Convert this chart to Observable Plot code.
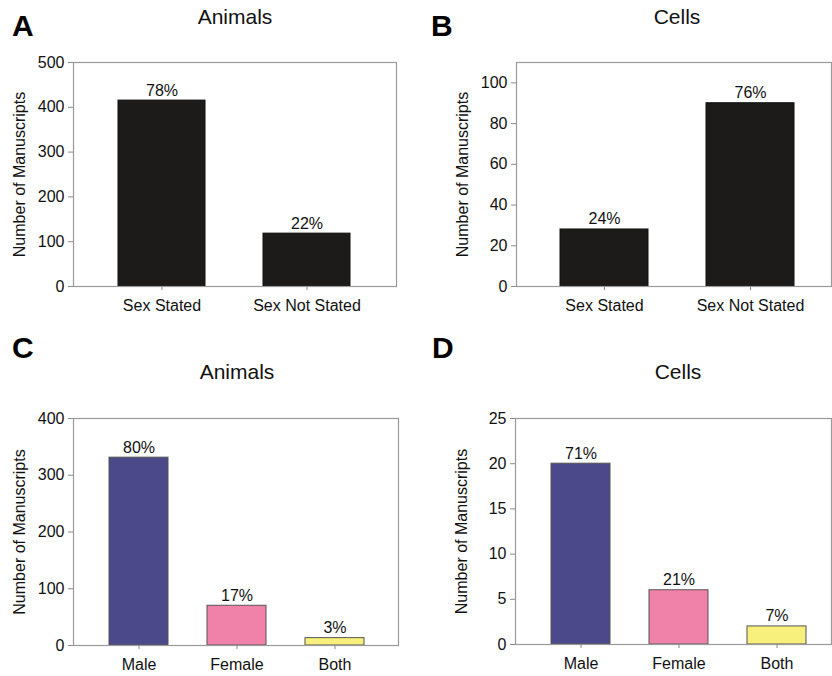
<!DOCTYPE html>
<html>
<head>
<meta charset="utf-8">
<script src="https://cdn.jsdelivr.net/npm/d3@7"></script>
<script src="https://cdn.jsdelivr.net/npm/@observablehq/plot@0.6"></script>
<style>
  html, body { margin: 0; padding: 0; background: #fff; }
  #root { position: relative; width: 832px; height: 676px; overflow: hidden; font-family: "Liberation Sans", Arial, sans-serif; }
  .panel { position: absolute; }
  .title { position: absolute; font-size: 21px; line-height: 21px; text-align: center; width: 300px; color: #111; }
  .letter { position: absolute; font-size: 30px; line-height: 30px; font-weight: bold; color: #000; }
</style>
</head>
<body>
<div id="root"></div>
<script>
// ---- data ----
const catsStated = ["Sex Stated", "Sex Not Stated"];
const animalsStated = [415, 118];
const animalsStatedPct = ["78%", "22%"];
const cellsStated = [28, 90];
const cellsStatedPct = ["24%", "76%"];

const catsSex = ["Male", "Female", "Both"];
const animalsSex = [331, 70, 13];
const animalsSexPct = ["80%", "17%", "3%"];
const cellsSex = [20, 6, 2];
const cellsSexPct = ["71%", "21%", "7%"];

const statedColors = ["#1c1b19", "#1c1b19"];
const sexColors = ["#4b4989", "#f081a9", "#f8f07c"];

const ticksA = [0, 100, 200, 300, 400, 500];
const ticksB = [0, 20, 40, 60, 80, 100];
const ticksC = [0, 100, 200, 300, 400];
const ticksD = [0, 5, 10, 15, 20, 25];

const root = document.getElementById("root");

function panel({cats, values, pct, colors, yDomain, yTicks, left, top, width, height,
                margins, pInner, pOuter, align, barStroke}) {
  const data = cats.map((c, i) => ({cat: c, v: values[i], pct: pct[i], color: colors[i]}));
  const chart = Plot.plot({
    width, height,
    marginTop: margins[0], marginRight: margins[1], marginBottom: margins[2], marginLeft: margins[3],
    style: {fontFamily: '"Liberation Sans", Arial, sans-serif', fontSize: "16px", color: "#111", background: "transparent", overflow: "visible"},
    x: {type: "band", domain: cats, paddingInner: pInner, paddingOuter: pOuter, align},
    y: {domain: yDomain},
    marks: [
      Plot.barY(data, {x: "cat", y: "v", fill: "color", stroke: barStroke, strokeWidth: 1}),
      Plot.text(data, {x: "cat", y: "v", text: "pct", lineAnchor: "bottom", dy: -5, fontSize: 16, fill: "#111"}),
      Plot.frame({stroke: "#9a9a9a", strokeWidth: 1.2}),
      Plot.axisY({ticks: yTicks, tickSize: 5, tickPadding: 4, stroke: "#8a8a8a", fill: "#111", fontSize: 16,
                  label: "Number of Manuscripts", labelAnchor: "center", labelArrow: "none", labelOffset: 60}),
      Plot.axisX({tickSize: 4, tickPadding: 9, stroke: "#8a8a8a", fill: "#111", fontSize: 16, label: null})
    ]
  });
  const div = document.createElement("div");
  div.className = "panel";
  div.style.left = left + "px";
  div.style.top = top + "px";
  div.appendChild(chart);
  root.appendChild(div);
}

function addText(cls, text, left, top) {
  const d = document.createElement("div");
  d.className = cls;
  d.textContent = text;
  d.style.left = left + "px";
  d.style.top = top + "px";
  root.appendChild(d);
}

panel({cats: catsStated, values: animalsStated, pct: animalsStatedPct, colors: statedColors,
       yDomain: [0, 500], yTicks: ticksA, left: 0, top: 40, width: 416, height: 290,
       margins: [22, 20, 44, 73], pInner: 0.397, pOuter: 0.305, align: 0.5, barStroke: "#111"});
panel({cats: catsStated, values: cellsStated, pct: cellsStatedPct, colors: statedColors,
       yDomain: [0, 110], yTicks: ticksB, left: 416, top: 40, width: 416, height: 290,
       margins: [22, 1, 44, 100], pInner: 0.399, pOuter: 0.275, align: 0.546, barStroke: "#111"});
panel({cats: catsSex, values: animalsSex, pct: animalsSexPct, colors: sexColors,
       yDomain: [0, 400], yTicks: ticksC, left: 0, top: 396, width: 416, height: 280,
       margins: [22, 18, 31, 73], pInner: 0.401, pOuter: 0.35, align: 0.507, barStroke: "#555"});
panel({cats: catsSex, values: cellsSex, pct: cellsSexPct, colors: sexColors,
       yDomain: [0, 25], yTicks: ticksD, left: 416, top: 396, width: 416, height: 280,
       margins: [22, 1, 32, 99], pInner: 0.398, pOuter: 0.31, align: 0.59, barStroke: "#555"});

addText("title", "Animals", 235 - 150, 6);
addText("title", "Cells", 677 - 150, 6);
addText("title", "Animals", 237 - 150, 361);
addText("title", "Cells", 678 - 150, 361);
addText("letter", "A", 12, 11);
addText("letter", "B", 431, 11);
addText("letter", "C", 12, 333);
addText("letter", "D", 432, 333);
</script>
</body>
</html>
